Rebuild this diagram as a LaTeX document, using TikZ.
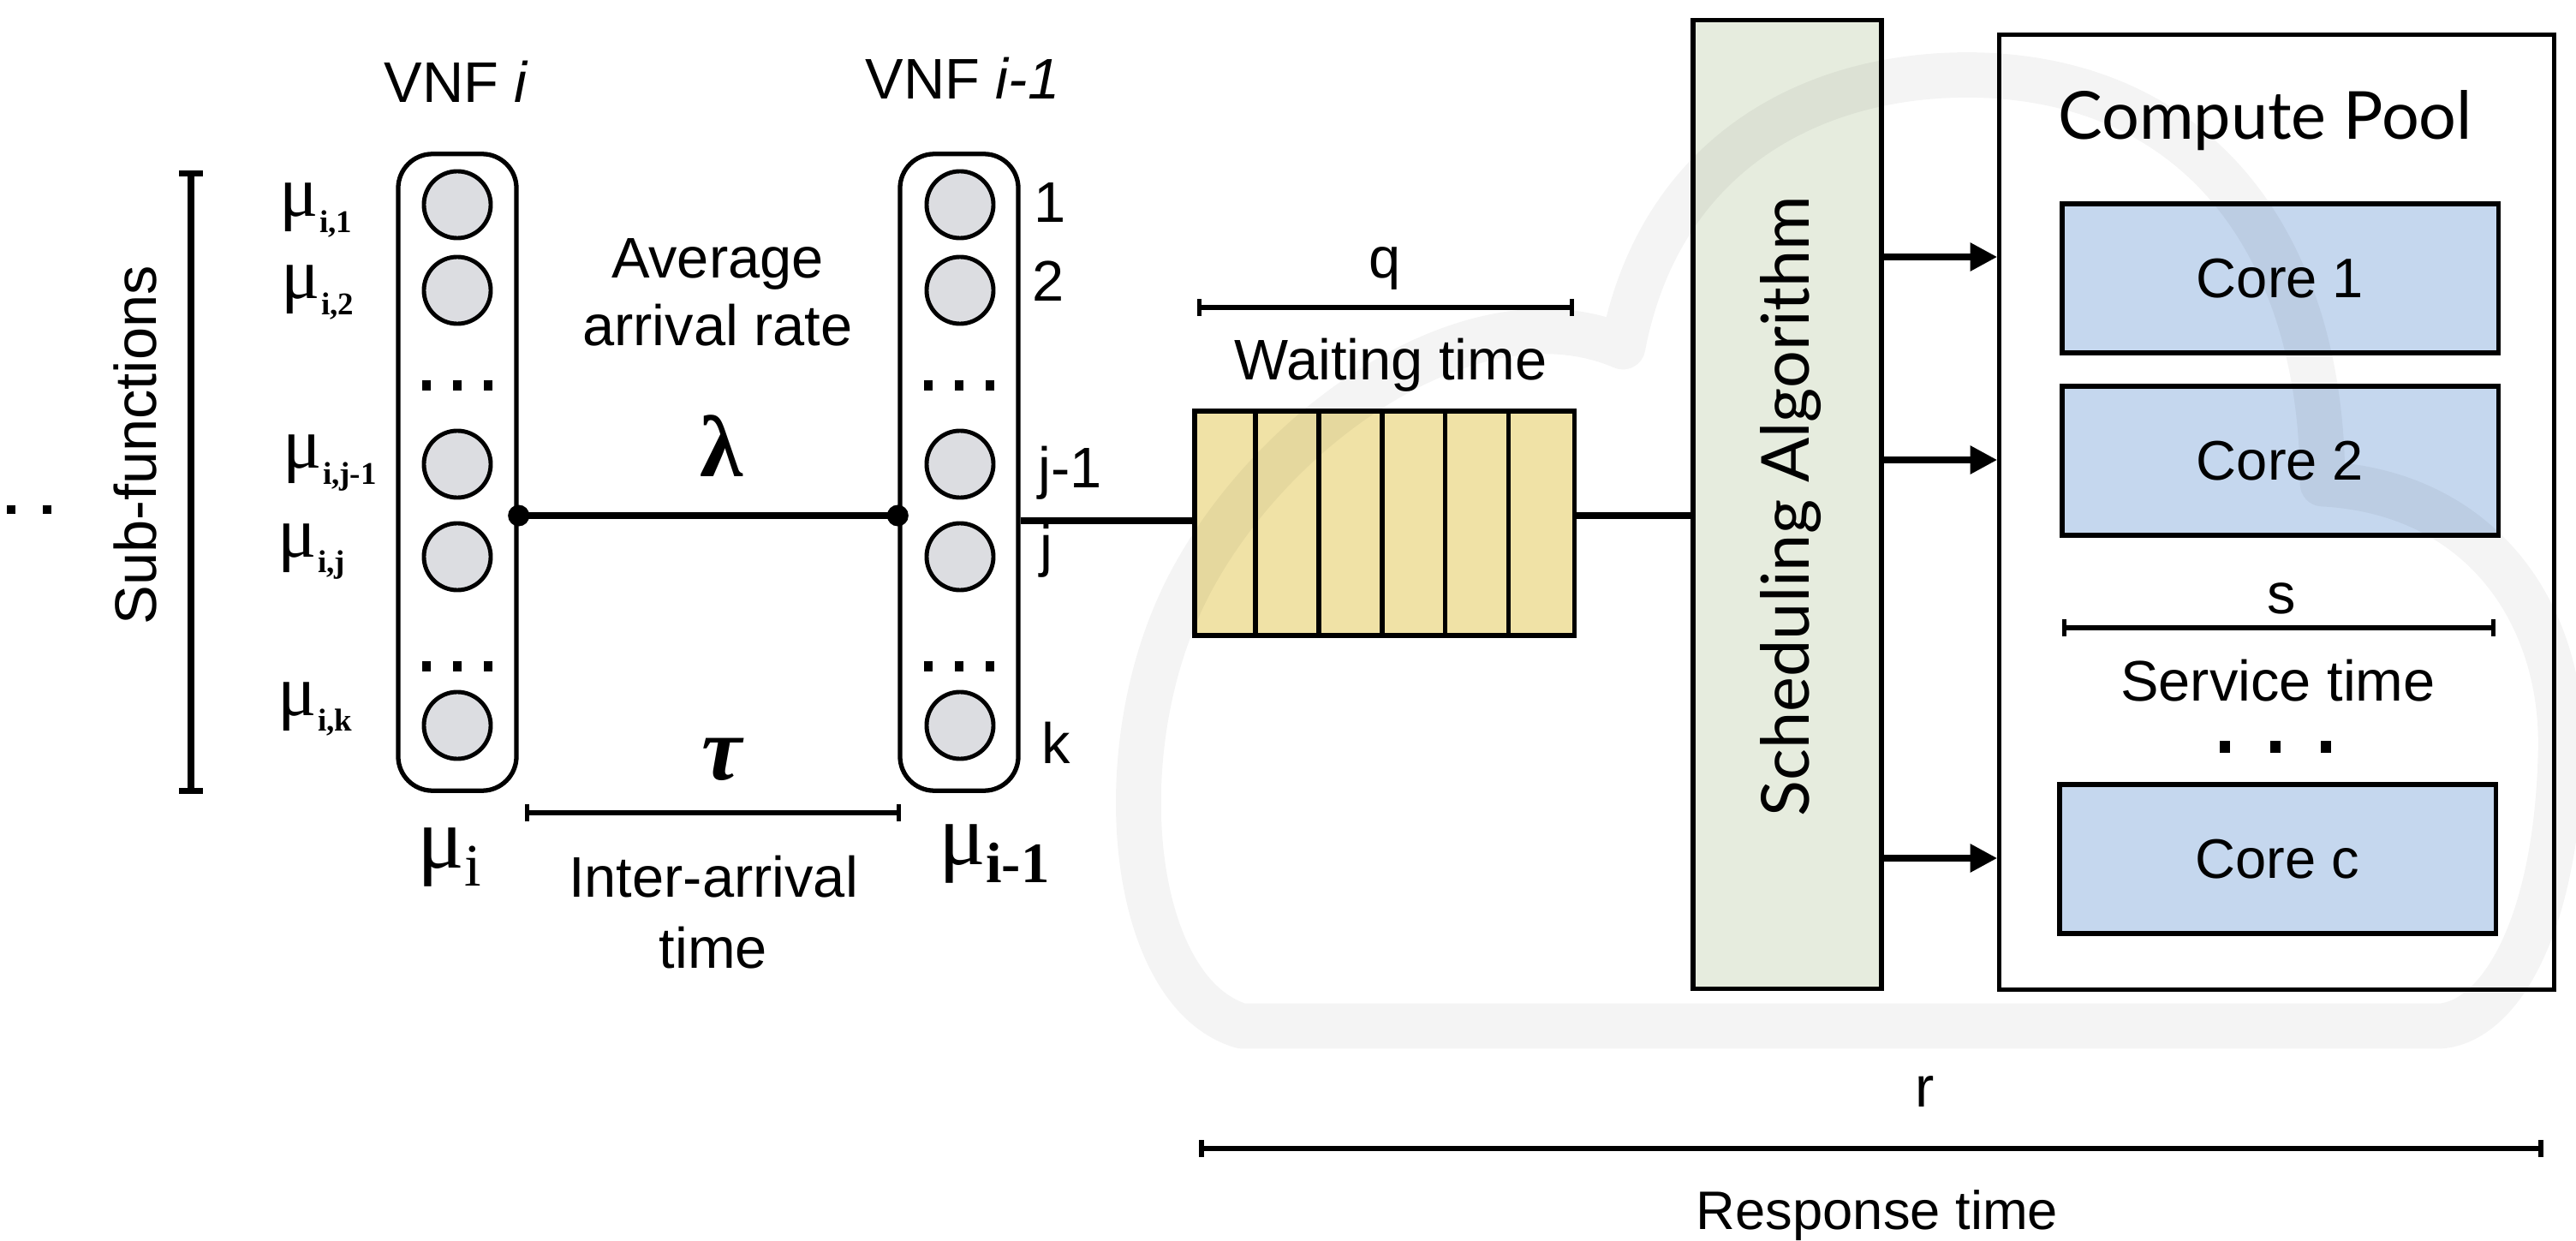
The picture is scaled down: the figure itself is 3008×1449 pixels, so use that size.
\documentclass[tikz,border=0pt]{standalone}
\usepackage{fontspec}
\setmainfont{Liberation Sans}
\newfontfamily\serifmu{Liberation Serif}
\newfontfamily\optfont{Lato}
\usetikzlibrary{arrows.meta,calc}
\definecolor{circfill}{RGB}{220,221,225}
\definecolor{queuefill}{RGB}{240,226,166}
\definecolor{schedfill}{RGB}{230,236,222}
\definecolor{corefill}{RGB}{197,215,238}
\newcommand{\lblfont}{\fontsize{19pt}{22pt}\selectfont}
\newcommand{\musmall}[1]{{\serifmu\fontsize{24pt}{24pt}\selectfont μ\kern0.3pt\raisebox{-5.4pt}{\fontsize{10.5pt}{10.5pt}\selectfont\bfseries #1}}}
\begin{document}
\begin{tikzpicture}[x=0.01cm,y=-0.01cm,
  lbl/.style={font=\lblfont, inner sep=0pt},
  vnfbox/.style={draw, line width=1.5pt, rounded corners=0.4cm, minimum width=1.38cm, minimum height=7.43cm, inner sep=0pt},
  subfn/.style={circle, draw, line width=1.4pt, fill=circfill, minimum size=0.78cm, inner sep=0pt},
  conn/.style={line width=2pt},
  jdot/.style={circle, fill=black, minimum size=0.25cm, inner sep=0pt},
  brk/.style={line width=1.5pt, {Bar[width=5.7pt]}-{Bar[width=5.7pt]}},
  arr/.style={line width=2.1pt, -{Triangle[length=9pt,width=9pt]}},
  corebox/.style={draw, line width=1.5pt, fill=corefill, minimum width=5.09cm, minimum height=1.74cm, inner sep=0pt, font=\fontsize{18.5pt}{22pt}\selectfont},
  cloudline/.style={line width=15pt, draw=black, draw opacity=0.045, line join=round}
]
\useasboundingbox (0,0) rectangle (3008,1449);

% far-left dots
\fill (8,590) rectangle (18,600);
\fill (50,590) rectangle (60,600);

% Sub-functions bar
\coordinate (sbT) at (223,199);
\coordinate (sbB) at (223,927);
\draw[line width=2.1pt, {Bar[width=7.7pt]}-{Bar[width=7.7pt]}] (sbT) -- (sbB);
\node[inner sep=0pt, font=\fontsize{19.5pt}{22pt}\selectfont, rotate=90, anchor=base] (subf) at (182,520) {Sub-functions};

% VNF boxes
\node[vnfbox] (vnfA) at (534,551.5) {};
\node[vnfbox] (vnfB) at (1120,551.5) {};
\node[lbl, anchor=base] (vnfAt) at (533,120) {VNF \textit{i}};
\node[lbl, anchor=base] (vnfBt) at (1124,116) {VNF \textit{i-1}};

\foreach \n/\y in {1/239,2/339,3/542,4/650,5/847}{
  \node[subfn] (a\n) at (534,\y) {};
  \node[subfn] (b\n) at (1121,\y) {};
}
\foreach \cx in {534,1120}{
  \foreach \dx in {-36,0,36}{
    \fill (\cx+\dx-5,444) rectangle (\cx+\dx+5,456);
    \fill (\cx+\dx-5,772) rectangle (\cx+\dx+5,784);
  }
}

% mu labels VNF i
\node[inner sep=0pt, anchor=base west] (m1) at (326,253) {\musmall{i,1}};
\node[inner sep=0pt, anchor=base west] (m2) at (328,349) {\musmall{i,2}};
\node[inner sep=0pt, anchor=base west] (m3) at (330,547) {\musmall{i,j-1}};
\node[inner sep=0pt, anchor=base west] (m4) at (324,650) {\musmall{i,j}};
\node[inner sep=0pt, anchor=base west] (m5) at (324,835) {\musmall{i,k}};

% index labels VNF i-1
\node[lbl, anchor=base west] (n1) at (1207,260) {1};
\node[lbl, anchor=base west] (n2) at (1205,352) {2};
\node[lbl, anchor=base west] (n3) at (1212,570) {j-1};
\node[lbl, anchor=base west] (n4) at (1214,661) {j};
\node[lbl, anchor=base west] (n5) at (1216,891) {k};

% big mu labels
\node[inner sep=0pt, anchor=base west] (muA) at (487,1013)
  {\serifmu\fontsize{29pt}{29pt}\selectfont μ\raisebox{-6pt}{\fontsize{20pt}{20pt}\selectfont i}};
\node[inner sep=0pt, anchor=base west] (muB) at (1096,1009)
  {\serifmu\fontsize{29pt}{29pt}\selectfont μ\raisebox{-6pt}{\fontsize{19pt}{19pt}\selectfont\bfseries i-1}};

% arrival between VNFs
\coordinate (yl) at (0,602);
\coordinate (jA) at (vnfA.east |- yl);
\coordinate (jB) at (vnfB.west |- yl);
\draw[conn] (jA) -- (jB);
\node[jdot] (dA) at (jA) {};
\node[jdot] (dB) at (jB) {};
\node[lbl, align=center, anchor=base] (avg) at (838,404) {Average\\[0.6pt]arrival rate};
\node[inner sep=0pt, anchor=base] (lam) at (843,557) {\serifmu\fontsize{29pt}{29pt}\selectfont\bfseries λ};
\node[inner sep=0pt, anchor=base] (tau) at (843,910) {\serifmu\fontsize{30pt}{30pt}\selectfont\bfseries\itshape τ};
\coordinate (tauL) at (613,949);
\coordinate (tauR) at (1052,949);
\draw[brk] (tauL) -- (tauR);
\node[lbl, align=center, anchor=base] (inter) at (833,1130) {Inter-arrival\\[1.6pt]time};

% queue
\node[draw, line width=1.5pt, fill=queuefill, minimum width=4.43cm, minimum height=2.62cm, inner sep=0pt] (queue) at (1616.5,611) {};
\foreach \k in {1,...,5}{
  \draw[line width=1.5pt] ([xshift=\k*0.7383cm]queue.north west) -- ([xshift=\k*0.7383cm]queue.south west);
}
\coordinate (yq) at (0,608);
\draw[conn] (vnfB.east |- yq) -- (queue.west |- yq);
\coordinate (qL) at (1398,359);
\coordinate (qR) at (1838,359);
\draw[brk] (qL) -- (qR);
\node[lbl, anchor=base] (qt) at (1617,325) {q};
\node[lbl, anchor=base] (wt) at (1624,444) {Waiting time};

% scheduling
\node[draw, line width=1.5pt, fill=schedfill, minimum width=2.2cm, minimum height=11.3cm, inner sep=0pt] (sched) at (2087,589) {};
\node[inner sep=0pt, rotate=90, anchor=base, font=\optfont\fontsize{22pt}{26pt}\selectfont] (schedt) at (2112,591) {Scheduling Algorithm};
\draw[conn] (queue.east |- yl) -- (sched.west |- yl);

% compute pool
\node[draw, line width=1.5pt, fill=white, minimum width=6.47cm, minimum height=11.14cm, inner sep=0pt] (pool) at (2658.5,598) {};
\node[inner sep=0pt, anchor=base, font=\optfont\fontsize{22pt}{26pt}\selectfont] (poolt) at (2645,163) {Compute Pool};
\node[corebox] (c1) at (2662.5,325) {Core 1};
\node[corebox] (c2) at (2662.5,538) {Core 2};
\node[corebox] (cc) at (2659.5,1003) {Core c};
\foreach \dx in {-59,0,59}{
  \fill (2657+\dx-6,865) rectangle (2657+\dx+6,879);
}
\coordinate (sL) at (2408,733);
\coordinate (sR) at (2914,733);
\draw[brk] (sL) -- (sR);
\node[lbl, anchor=base] (st) at (2664,716) {s};
\node[lbl, anchor=base] (svt) at (2660,818) {Service time};

\coordinate (ya1) at (0,300);
\coordinate (ya2) at (0,537);
\coordinate (ya3) at (0,1002);
\draw[arr] (sched.east |- ya1) -- (pool.west |- ya1);
\draw[arr] (sched.east |- ya2) -- (pool.west |- ya2);
\draw[arr] (sched.east |- ya3) -- (pool.west |- ya3);

% response time
\coordinate (rL) at (1400,1341);
\coordinate (rR) at (2970,1341);
\draw[line width=1.8pt, {Bar[width=5.7pt]}-{Bar[width=5.7pt]}] (rL) -- (rR);
\node[lbl, anchor=base] (rt) at (2248,1292) {r};
\node[inner sep=0pt, font=\fontsize{18pt}{21pt}\selectfont, anchor=base] (respt) at (2192,1435) {Response time};

% cloud watermark
\draw[cloudline] (1450,1198) .. controls (1320,1160) and (1290,880) .. (1385,690)
  .. controls (1480,500) and (1720,330) .. (1895,405)
  .. controls (1940,170) and (2130,80) .. (2320,88)
  .. controls (2580,100) and (2712,300) .. (2712,565)
  .. controls (2900,575) and (2995,720) .. (2990,880)
  .. controls (2985,1080) and (2920,1192) .. (2850,1198)
  -- cycle;
\end{tikzpicture}
\end{document}
